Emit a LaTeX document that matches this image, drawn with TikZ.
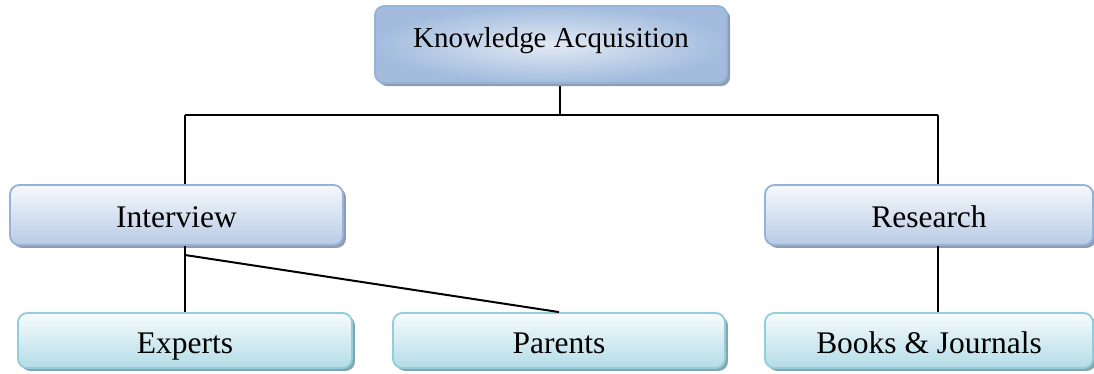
\documentclass[tikz,border=0pt]{standalone}
\usepackage{fontspec}
\setmainfont{Liberation Serif}
\usetikzlibrary{shadows}
\definecolor{bluebord}{HTML}{95B3D7}
\definecolor{cyanbord}{HTML}{92CDDC}
\definecolor{blueshad}{HTML}{8E9DB3}
\definecolor{cyanshad}{HTML}{84A5AE}
\definecolor{topin}{HTML}{E2EAF4}
\definecolor{topout}{HTML}{A3BCDE}
\definecolor{midtop}{HTML}{F6F8FC}
\definecolor{midbot}{HTML}{B8CBE5}
\definecolor{leaftop}{HTML}{F6FBFC}
\definecolor{leafbot}{HTML}{B4DCE7}
\tikzset{
  box/.style={rounded corners=7pt, line width=1.4pt, inner sep=0pt,
    minimum height=#1*0.75pt, text=black},
  topbox/.style={box=77, draw=bluebord, shading=radial,
    inner color=topin, outer color=topout,
    general shadow={fill=blueshad, shadow xshift=2.4pt, shadow yshift=-2.4pt},
    font=\fontsize{21.7pt}{26pt}\selectfont, text height=17pt, text depth=12.5pt},
  midbox/.style={box=60, draw=bluebord, top color=midtop, bottom color=midbot,
    general shadow={fill=blueshad, shadow xshift=2.2pt, shadow yshift=-2.2pt},
    font=\fontsize{23.6pt}{28pt}\selectfont, text height=22pt, text depth=3pt},
  leafbox/.style={box=55, draw=cyanbord, top color=leaftop, bottom color=leafbot,
    general shadow={fill=cyanshad, shadow xshift=2.2pt, shadow yshift=-2.2pt},
    font=\fontsize{23.6pt}{28pt}\selectfont, text height=22pt, text depth=3pt},
  link/.style={line width=1.5pt, black}
}
\begin{document}
\begin{tikzpicture}[x=0.75pt, y=-0.75pt]
\useasboundingbox (0,0) rectangle (1094,374);
\clip (0,0) rectangle (1094,374);

% junction points of the tree
\coordinate (j0) at (560,115);
\coordinate (jl) at (185,115);
\coordinate (jr) at (938,115);
\coordinate (split) at (185,255);

% connectors (behind the boxes)
\draw[link] (jl) -- (jr);
\draw[link] (560,80) coordinate (katap) -- (j0);
\draw[link] (jl) -- (185,190) coordinate (intap);
\draw[link] (jr) -- (938,190) coordinate (restap);

% boxes
\node[topbox, minimum width=352*0.75pt] (ka) at (551,44.5) {Knowledge Acquisition};
\node[midbox, minimum width=333*0.75pt] (intv) at (176.5,215) {Interview};
\node[midbox, minimum width=328*0.75pt] (res) at (929,215) {Research};
\node[leafbox, minimum width=334*0.75pt] (exp) at (185,340.5) {Experts};
\node[leafbox, minimum width=332*0.75pt] (par) at (559,340.5) {Parents};
\node[leafbox, minimum width=328*0.75pt] (books) at (929,340.5) {Books \& Journals};

% lower connectors
\draw[link] (intv.south -| jl) -- (exp.north);
\draw[link] (split) -- (par.north);
\draw[link] (res.south -| jr) -- (books.north -| jr);
\end{tikzpicture}
\end{document}
